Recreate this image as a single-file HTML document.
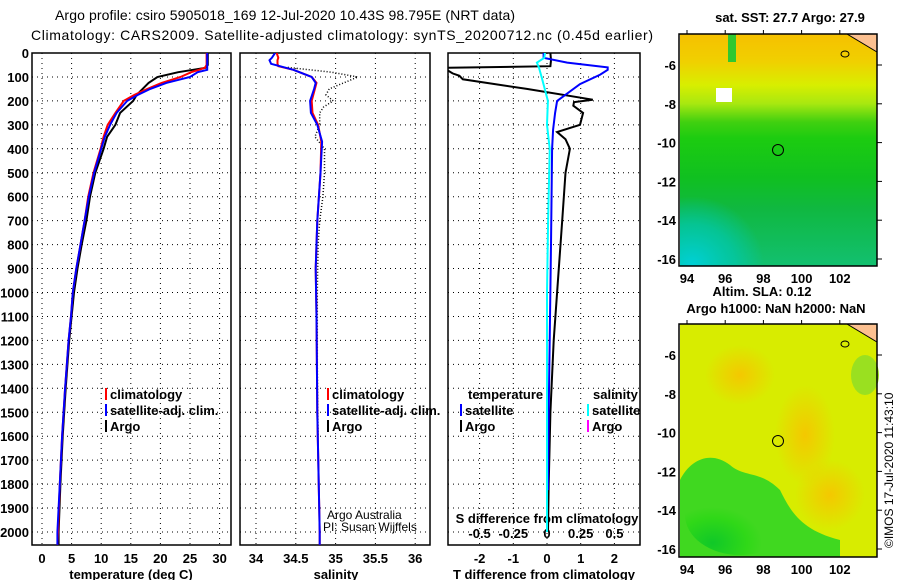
<!DOCTYPE html>
<html><head><meta charset="utf-8"><style>
body{margin:0;background:#fff;}
svg{display:block;font-family:"Liberation Sans",sans-serif;}
.t{font-size:13px;font-weight:bold;}
</style></head><body>
<svg id="fig" width="900" height="580" viewBox="0 0 900 580" xmlns="http://www.w3.org/2000/svg">
<defs>
<clipPath id="c1"><rect x="32" y="53" width="199" height="492"/></clipPath>
<clipPath id="c2"><rect x="240" y="53" width="190" height="492"/></clipPath>
<clipPath id="c3"><rect x="448" y="53" width="192" height="492"/></clipPath>
<linearGradient id="sst" x1="0" y1="0" x2="0" y2="1">
<stop offset="0" stop-color="#f6c000"/><stop offset="0.12" stop-color="#f0d000"/><stop offset="0.22" stop-color="#d8ee00"/><stop offset="0.3" stop-color="#a8e810"/><stop offset="0.38" stop-color="#40d010"/><stop offset="0.45" stop-color="#1ccc10"/><stop offset="0.62" stop-color="#10c020"/><stop offset="0.75" stop-color="#10b840"/><stop offset="1" stop-color="#12c070"/>
</linearGradient>
<radialGradient id="cyan" cx="0.1" cy="1" r="0.6"><stop offset="0" stop-color="#00d0d8" stop-opacity="1"/><stop offset="0.6" stop-color="#00c8b0" stop-opacity="0.7"/><stop offset="1" stop-color="#00c8b0" stop-opacity="0"/></radialGradient>
<radialGradient id="grn" cx="0.25" cy="0.85" r="0.45"><stop offset="0" stop-color="#10c828"/><stop offset="0.7" stop-color="#30d818"/><stop offset="1" stop-color="#30d818" stop-opacity="0"/></radialGradient>
<radialGradient id="org" cx="0.5" cy="0.5" r="0.5"><stop offset="0" stop-color="#f4c800"/><stop offset="1" stop-color="#f4c800" stop-opacity="0"/></radialGradient>
</defs>
<g id="titles">
<text x="285" y="20" text-anchor="middle" font-size="14" textLength="460">Argo profile: csiro 5905018_169 12-Jul-2020 10.43S 98.795E (NRT data)</text>
<text x="342" y="40" text-anchor="middle" font-size="14" textLength="622">Climatology: CARS2009. Satellite-adjusted climatology: synTS_20200712.nc (0.45d earlier)</text>
</g>
<g id="p1"></g>
<g id="p2"></g>
<g id="p3"></g>
<g id="maps">
<rect x="680" y="34" width="197" height="232" fill="url(#sst)"/>
<rect x="680" y="150" width="120" height="116" fill="url(#cyan)"/>
<rect x="716" y="88" width="16" height="14" fill="#fff"/>
<rect x="728" y="34" width="8" height="28" fill="#30c830"/>
<path d="M847,34 L877,34 L877,52 Z" fill="#fcc090" stroke="#000"/>
<ellipse cx="845" cy="54" rx="4" ry="3" fill="none" stroke="#000"/>
<circle cx="778" cy="150" r="5.5" fill="none" stroke="#000"/>
<rect x="680" y="324" width="197" height="233" fill="#d8ec00"/>
<ellipse cx="740" cy="375" rx="35" ry="30" fill="url(#org)"/>
<ellipse cx="805" cy="435" rx="30" ry="50" fill="url(#org)"/>
<ellipse cx="830" cy="495" rx="35" ry="35" fill="url(#org)"/>
<path d="M680,480 C690,460 710,450 730,465 C745,478 760,470 780,490 C790,510 800,530 840,540 L840,557 L680,557 Z" fill="#40d820"/>
<ellipse cx="740" cy="515" rx="55" ry="40" fill="url(#grn)"/>
<ellipse cx="865" cy="375" rx="14" ry="20" fill="#9ae020"/>
<path d="M847,324 L877,324 L877,342 Z" fill="#fcc090" stroke="#000"/>
<ellipse cx="845" cy="344" rx="4" ry="3" fill="none" stroke="#000"/>
<circle cx="778" cy="441" r="5.5" fill="none" stroke="#000"/>
<rect x="679" y="34" width="198" height="232" fill="none" stroke="#000" stroke-width="1.5"/>
<rect x="679" y="324" width="198" height="233" fill="none" stroke="#000" stroke-width="1.5"/>
<text x="790" y="22" text-anchor="middle" class="t">sat. SST: 27.7 Argo: 27.9</text>
<text x="762" y="296" text-anchor="middle" class="t">Altim. SLA: 0.12</text>
<text x="776" y="313" text-anchor="middle" class="t">Argo h1000: NaN h2000: NaN</text>
<text transform="translate(893,548) rotate(-90)" font-size="12">©IMOS 17-Jul-2020 11:43:10</text>
</g>
</svg>
<script>
const depthTicks=[0,100,200,300,400,500,600,700,800,900,1000,1100,1200,1300,1400,1500,1600,1700,1800,1900,2000];
const tTicks=[0,5,10,15,20,25,30];
const sTicks=[34,34.5,35,35.5,36];
const sTickLabels=["34","34.5","35","35.5","36"];
const dTTicks=[-2,-1,0,1,2];
const dSTickLabels=["-0.5","-0.25","0","0.25","0.5"];
const dSTicks=[-0.5,-0.25,0,0.25,0.5];
const latTicks=[-6,-8,-10,-12,-14,-16];
const lonTicks=[94,96,98,100,102];

const tDepth=[0,50,62,70,80,100,125,150,175,200,250,300,350,400,500,600,700,800,900,1000,1100,1200,1400,1600,1800,2000,2054];
const tClim=[27.8,27.8,27.5,26.5,25.2,23.4,20.2,17.8,15.6,13.8,12.4,11.1,10.4,9.9,8.7,7.8,7.2,6.5,5.8,5.2,4.9,4.5,3.9,3.4,3.0,2.7,2.6];
const tSat=[27.9,27.9,27.9,27.9,26.3,25.0,21.0,18.3,16.2,14.4,12.6,11.5,10.6,10.0,8.8,7.9,7.2,6.5,5.8,5.2,4.9,4.5,3.9,3.4,3.0,2.6,2.6];
const tArgo=[28.0,28.0,27.6,25.5,23.0,19.5,18.0,17.0,16.0,15.4,13.2,12.4,11.0,10.4,9.0,8.1,7.5,6.7,6.0,5.4,5.0,4.6,4.0,3.5,3.1,2.8,2.8];

const sDepth=[0,20,30,45,55,70,100,125,150,200,250,300,370,500,700,900,1100,1500,2000,2054];
const sClim=[34.26,34.28,34.27,34.27,34.28,34.47,34.7,34.76,34.74,34.7,34.71,34.78,34.82,34.81,34.77,34.75,34.76,34.77,34.8,34.8];
const sSat=[34.24,34.2,34.17,34.19,34.3,34.47,34.7,34.75,34.73,34.68,34.69,34.77,34.83,34.81,34.77,34.75,34.76,34.77,34.8,34.8];
const sArgoDepth=[60,80,100,125,150,175,200,225,250,300,350,400,500,600,700,800,1000,1300,1600];
const sArgo=[34.4,34.95,35.28,35.1,34.92,34.88,34.97,34.85,34.8,34.8,34.74,34.86,34.86,34.84,34.8,34.78,34.77,34.77,34.78];

const dtDepth=[0,30,55,62,68,85,95,110,150,195,205,220,250,300,330,360,400,500,700,1000,1200,1500,1800,2000];
const dtArgo=[0.1,0.12,0.1,-3,-3,-2.8,-2.6,-2.5,-0.6,1.36,0.8,0.78,1.07,0.98,0.3,0.55,0.68,0.55,0.45,0.3,0.2,0.1,0.05,0.03];
const dtSatDepth=[0,20,40,60,70,90,130,200,250,320,400,800,1200,1500,1825];
const dtSat=[-0.1,-0.1,0.6,1.8,1.8,1.58,0.98,0.3,0.24,0.18,0.15,0.12,0.08,0.05,0.03];
const dsSatDepth=[0,20,40,60,100,200,300,400,700,1000,2000];
const dsSat=[-0.015,-0.02,-0.075,-0.06,-0.04,0.007,0.0,0.02,0.008,0.0,0.0];

const NS="http://www.w3.org/2000/svg";
const Y=d=>53+d*0.2395;
const xT=v=>42+v*5.92;
const xS=v=>256+(v-34)*79.6;
const xD=v=>547+v*33.7;
const xDS=v=>547+v*134.8;
function mk(tag,attrs,parent){const e=document.createElementNS(NS,tag);for(const k in attrs)e.setAttribute(k,attrs[k]);parent.appendChild(e);return e;}
function txt(parent,x,y,s,anchor){const e=mk('text',{x:x,y:y,'text-anchor':anchor||'middle','class':'t'},parent);e.textContent=s;return e;}
function line(parent,xs,ys,color,w,dash,clip){const pts=xs.map((x,i)=>x.toFixed(1)+','+ys[i].toFixed(1)).join(' ');const a={points:pts,fill:'none',stroke:color,'stroke-width':w};if(dash)a['stroke-dasharray']=dash;if(clip)a['clip-path']='url(#'+clip+')';return mk('polyline',a,parent);}

function panel(g,x0,x1,xticks,xfun,clip,labelFn){
  depthTicks.forEach(d=>{
    const l=mk('line',{x1:x0,x2:x1,y1:Y(d),y2:Y(d),stroke:'#000','stroke-dasharray':'1,4','stroke-width':1},g);
    
    
  });
  xticks.forEach((v,i)=>{
    const x=xfun(v);
    const l=mk('line',{x1:x,x2:x,y1:53,y2:545,stroke:'#000','stroke-dasharray':'1,4','stroke-width':1},g);
    
    
    if(labelFn){const t=txt(g,x,563,labelFn(i));
    
    }
  });
  const r=mk('rect',{x:x0,y:53,width:x1-x0,height:492,fill:'none',stroke:'#000','stroke-width':1.5},g);
  
  
}
const p1=document.getElementById('p1'),p2=document.getElementById('p2'),p3=document.getElementById('p3');
panel(p1,32,231,tTicks,xT,'c1',i=>String(tTicks[i]));
panel(p2,240,430,sTicks,xS,'c2',i=>sTickLabels[i]);
panel(p3,448,640,dTTicks,xD,'c3',i=>String(dTTicks[i]));
depthTicks.forEach(d=>{const t=txt(p1,29,Y(d)+5,String(d),'end');

});
dSTicks.forEach((v,i)=>{const t=txt(p3,xDS(v),538,dSTickLabels[i]);

});
let t;
t=txt(p1,131,579,'temperature (deg C)');
t=txt(p2,336,579,'salinity');
t=txt(p3,544,579,'T difference from climatology');
t=txt(p3,547,523,'S difference from climatology');

let s;
s=line(p1,tArgo.map(xT),tDepth.map(Y),'#000',2,null,'c1');
s=line(p1,tClim.map(xT),tDepth.map(Y),'#f00',2,null,'c1');
s=line(p1,tSat.map(xT),tDepth.map(Y),'#00f',2,null,'c1');
s=line(p2,sArgo.map(xS),sArgoDepth.map(Y),'#000',1.5,'1,2','c2');
s=line(p2,sClim.map(xS),sDepth.map(Y),'#f00',2,null,'c2');
s=line(p2,sSat.map(xS),sDepth.map(Y),'#00f',2,null,'c2');
s=line(p3,dtArgo.map(xD),dtDepth.map(Y),'#000',2,null,'c3');
s=line(p3,dtSat.map(xD),dtSatDepth.map(Y),'#00f',2,null,'c3');
s=line(p3,dsSat.map(xDS),dsSatDepth.map(Y),'#0ff',2,null,'c3');

function leg(g,x,y,color,label){
  const m=mk('rect',{x:x,y:y-8,width:2,height:12,fill:color},g);
  
  
  const tt=txt(g,x+5,y+3,label,'start');
  
  
}
leg(p1,105,396,'#f00','climatology');leg(p1,105,412,'#00f','satellite-adj. clim.');leg(p1,105,428,'#000','Argo');
leg(p2,327,396,'#f00','climatology');leg(p2,327,412,'#00f','satellite-adj. clim.');leg(p2,327,428,'#000','Argo');
t=txt(p3,468,399,'temperature','start');
t=txt(p3,593,399,'salinity','start');
leg(p3,460,412,'#00f','satellite');leg(p3,460,428,'#000','Argo');
leg(p3,587,412,'#0ff','satellite');leg(p3,587,428,'#f0f','Argo');
const cr=mk('text',{x:327,y:519,'font-size':12},p2);cr.textContent='Argo Australia';

const cr2=mk('text',{x:323,y:531,'font-size':12},p2);cr2.textContent='PI: Susan Wijffels';


const maps=document.getElementById('maps');
[[34,266,65,19.4],[324,557,355,19.4]].forEach(([top,bot,y6,k])=>{
  latTicks.forEach(v=>{
    const y=y6+(-6-v)*k;
    const tk=mk('line',{x1:877,x2:882,y1:y,y2:y,stroke:'#000'},maps);
    
    
    const lb=txt(maps,676,y+5,String(v),'end');
    
    
  });
  lonTicks.forEach(v=>{
    const x=687+(v-94)*19.1;
    const tk=mk('line',{x1:x,x2:x,y1:top,y2:top-4,stroke:'#000'},maps);
    
    
    const lb=txt(maps,x,bot+17,String(v));
    
    
  });
});
</script>
</body></html>
